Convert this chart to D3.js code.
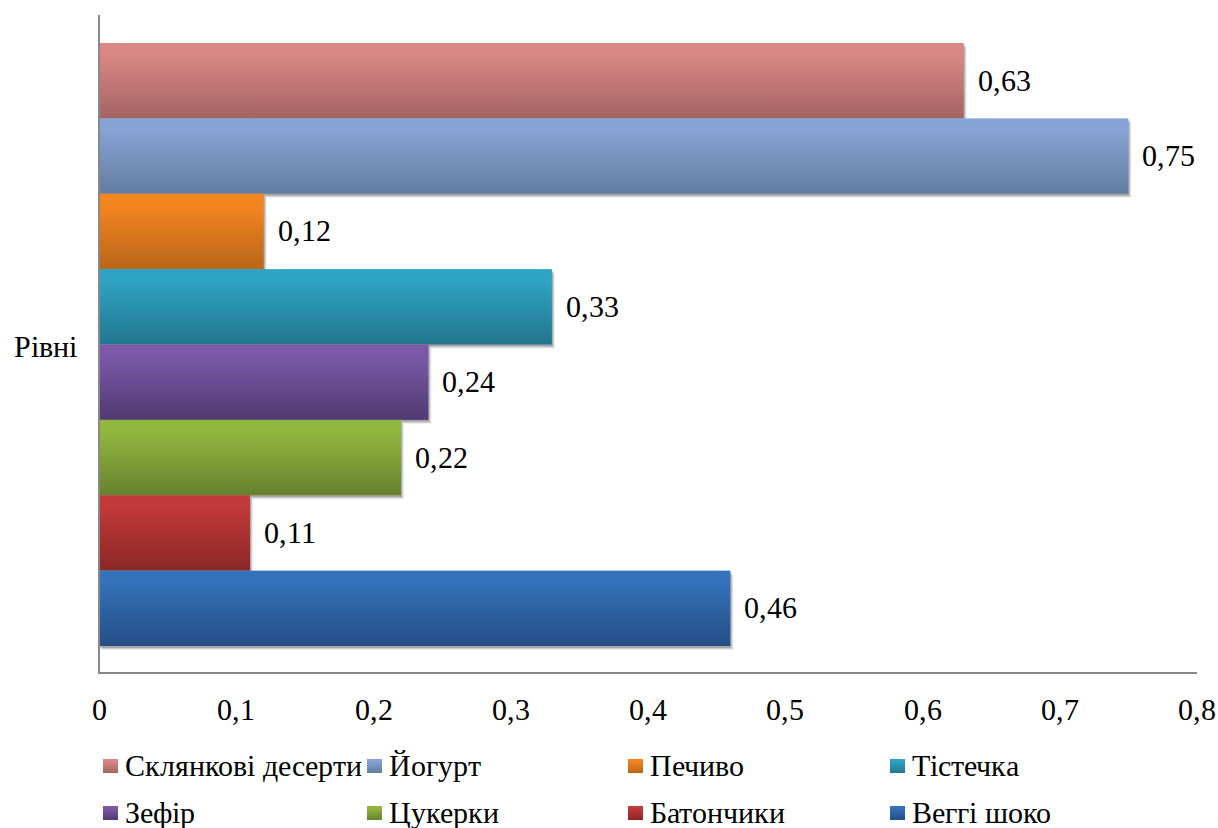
<!DOCTYPE html>
<html>
<head>
<meta charset="utf-8">
<script src="https://cdn.jsdelivr.net/npm/d3@7"></script>
<style>
  @font-face { font-family: "ChartSerif"; src: local("Liberation Serif"), local("LiberationSerif"), local("Times New Roman"); }
  body { margin: 0; }
  #s text { font-family: "ChartSerif", "Liberation Serif", "Times New Roman", serif !important; font-size: 30px !important; }
</style>
</head>
<body>
<svg id="s" width="1218" height="828"></svg>
<script>
// Series names (one bar per series in the single category "Рівні")
const seriesNames = ["Склянкові десерти", "Йогурт", "Печиво", "Тістечка", "Зефір", "Цукерки", "Батончики", "Веггі шоко"];
const seriesValues = [0.63, 0.75, 0.12, 0.33, 0.24, 0.22, 0.11, 0.46];
const categoryName = "Рівні";
const xTicks = [0, 0.1, 0.2, 0.3, 0.4, 0.5, 0.6, 0.7, 0.8];
// Gradient stops (light top, dark bottom) per series
const colorsTop = ["#d98784", "#87a3d5", "#f3851f", "#2fa3c3", "#7b59a8", "#92b73f", "#c23a39", "#3472ba"];
const colorsBottom = ["#a36462", "#637ca0", "#b9661a", "#22778e", "#503a72", "#66812d", "#8a2726", "#264e86"];

const s = d3.select("#s");
const fmt = v => String(v).replace(".", ",");
const serif = sel => sel.attr("fill", "#000");

const plot = { left: 99, right: 1197, top: 15, bottom: 673 };

const x = d3.scaleLinear().domain([0, 0.8]).range([plot.left, plot.right]);
const y = d3.scaleBand().domain(seriesNames)
  .range([plot.top + 28, plot.bottom - 27]).paddingInner(0).paddingOuter(0);

const defs = s.append("defs");
seriesNames.forEach((n, i) => {
  const g = defs.append("linearGradient").attr("id", "grad" + i)
    .attr("x1", 0).attr("y1", 0).attr("x2", 0).attr("y2", 1);
  g.append("stop").attr("offset", "0%").attr("stop-color", colorsTop[i]);
  g.append("stop").attr("offset", "15%").attr("stop-color", colorsTop[i]);
  g.append("stop").attr("offset", "100%").attr("stop-color", colorsBottom[i]);
});

const barData = seriesNames.map((n, i) => ({ n, v: seriesValues[i], i }));

// Soft drop shadows under the bars (layered translucent rects)
const shadowLayers = [{ d: 4, o: 0.08 }, { d: 3, o: 0.12 }, { d: 2, o: 0.18 }];
const gShadow = s.append("g");
shadowLayers.forEach(L => {
  gShadow.append("g").selectAll("rect").data(barData).join("rect")
    .attr("x", x(0) + L.d - 1)
    .attr("y", d => y(d.n) + L.d)
    .attr("width", d => x(d.v) - x(0))
    .attr("height", y.bandwidth())
    .attr("fill", "#000").attr("fill-opacity", L.o);
});

// Bars
s.append("g").selectAll("rect").data(barData).join("rect")
  .attr("x", x(0))
  .attr("y", d => y(d.n))
  .attr("width", d => x(d.v) - x(0))
  .attr("height", y.bandwidth())
  .attr("fill", d => `url(#grad${d.i})`);

// Value labels
barData.forEach(d => {
  s.append("text")
    .attr("x", x(d.v) + 14)
    .attr("y", y(d.n) + y.bandwidth() / 2 + 10)
    .call(serif)
    .text(fmt(d.v));
});

// Axis lines
s.append("line").attr("x1", plot.left).attr("x2", plot.left)
  .attr("y1", plot.top).attr("y2", plot.bottom)
  .attr("stroke", "#888").attr("stroke-width", 2);
s.append("line").attr("x1", plot.left - 1).attr("x2", plot.right)
  .attr("y1", plot.bottom).attr("y2", plot.bottom)
  .attr("stroke", "#888").attr("stroke-width", 2);

// X tick labels, placed with the x scale
xTicks.forEach(t => {
  s.append("text")
    .attr("x", x(t))
    .attr("y", plot.bottom + 47)
    .attr("text-anchor", "middle")
    .call(serif)
    .text(fmt(t));
});

// Category label
s.append("text").attr("x", 14).attr("y", 357).call(serif).text(categoryName);

// Legend
const legendCols = [103, 367, 628, 890];
const legendRows = [766, 813];
seriesNames.forEach((n, i) => {
  const cx = legendCols[i % 4], cy = legendRows[Math.floor(i / 4)];
  s.append("rect").attr("x", cx).attr("y", cy - 7).attr("width", 15).attr("height", 14)
    .attr("fill", `url(#grad${i})`);
  s.append("text").attr("x", cx + 22).attr("y", cy + 10).call(serif).text(n);
});
</script>
</body>
</html>
